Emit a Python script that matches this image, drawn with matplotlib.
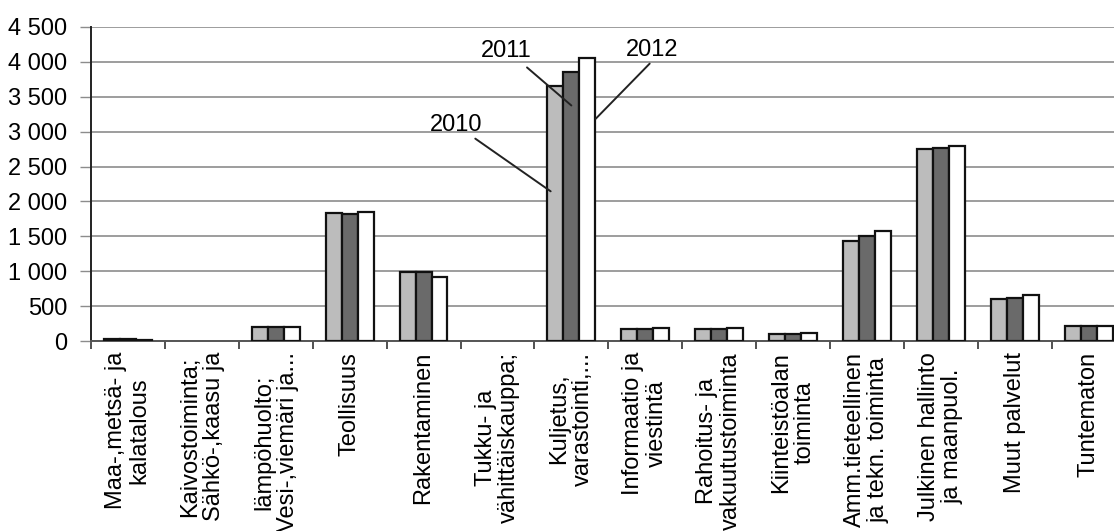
import matplotlib
matplotlib.use("Agg")
import matplotlib.pyplot as plt
import numpy as np

plt.rcParams['font.family'] = ['Liberation Sans', 'DejaVu Sans']

CATEGORIES = [
    "Maa-,metsä- ja\nkalatalous",
    "Kaivostoiminta;\nSähkö-,kaasu ja",
    "lämpöhuolto;\nVesi-,viemäri ja...",
    "Teollisuus",
    "Rakentaminen",
    "Tukku- ja\nvähittäiskauppa;",
    "Kuljetus,\nvarastointi,...",
    "Informaatio ja\nviestintä",
    "Rahoitus- ja\nvakuutustoiminta",
    "Kiinteistöalan\ntoiminta",
    "Amm.tieteellinen\nja tekn. toiminta",
    "Julkinen hallinto\nja maanpuol.",
    "Muut palvelut",
    "Tuntematon",
]

YEARS = ["2010", "2011", "2012"]
# nan = no bar shown for that category
V2010 = [25, np.nan, 205, 1835, 990, np.nan, 3650, 165, 170, 105, 1440, 2745, 595, 215]
V2011 = [25, np.nan, 205, 1825, 990, np.nan, 3860, 165, 170, 95, 1510, 2760, 610, 215]
V2012 = [20, np.nan, 205, 1850, 920, np.nan, 4050, 185, 190, 120, 1580, 2800, 660, 210]

COLORS = ["#bcbcbc", "#6a6a6a", "#ffffff"]

# where the year labels sit and where their leader lines hit the bars
LABEL_POS = {
    "2010": ((4.44, 3100), (4.70, 2900), (5.72, 2145)),
    "2011": ((5.12, 4150), (5.40, 3920), (6.00, 3375)),
    "2012": ((7.09, 4170), (7.06, 3975), (6.33, 3185)),
}

FS = 17


def main():
    fig = plt.figure(figsize=(11.14, 5.31), dpi=100)
    # plot area runs a bit past the right edge, like the cropped scan
    ax = fig.add_axes([0.0817, 0.3578, 0.9287, 0.5914])

    x = np.arange(len(CATEGORIES))
    width = 0.216
    for k, (vals, col) in enumerate(zip([V2010, V2011, V2012], COLORS)):
        ax.bar(x + (k - 1) * width, vals, width, color=col,
               edgecolor="#111111", linewidth=1.6, zorder=3, label=YEARS[k])

    ax.set_xlim(-0.5, len(CATEGORIES) - 0.5)
    ax.set_ylim(0, 4500)
    yt = np.arange(0, 4501, 500)
    ax.set_yticks(yt)
    ax.set_yticklabels([f"{v:,.0f}".replace(",", " ") for v in yt], fontsize=FS)
    ax.yaxis.grid(True, color="#8c8c8c", linewidth=1.2, zorder=0)
    ax.tick_params(axis="y", length=8, width=1, color="#8c8c8c", pad=9)

    ax.set_xticks(x)
    ax.set_xticklabels(CATEGORIES, rotation=90, fontsize=FS, linespacing=1.1)
    ax.set_xticks(np.arange(-0.5, len(CATEGORIES)), minor=True)
    ax.tick_params(axis="x", which="major", length=0, pad=8)
    ax.tick_params(axis="x", which="minor", length=6, width=1.2, color="#333333")

    for s in ["top", "right"]:
        ax.spines[s].set_visible(False)
    ax.spines["left"].set_color("#222222")
    ax.spines["left"].set_linewidth(1.4)
    ax.spines["bottom"].set_color("#555555")
    ax.spines["bottom"].set_linewidth(1.4)

    for year, (txt, start, end) in LABEL_POS.items():
        ax.text(txt[0], txt[1], year, fontsize=FS, ha="center", va="center", zorder=5)
        ax.annotate("", xy=end, xytext=start,
                    arrowprops=dict(arrowstyle="-", color="#222222", lw=1.4,
                                    shrinkA=0, shrinkB=0), zorder=5)

    fig.savefig("out.png", dpi=100)


if __name__ == '__main__':
    main()
